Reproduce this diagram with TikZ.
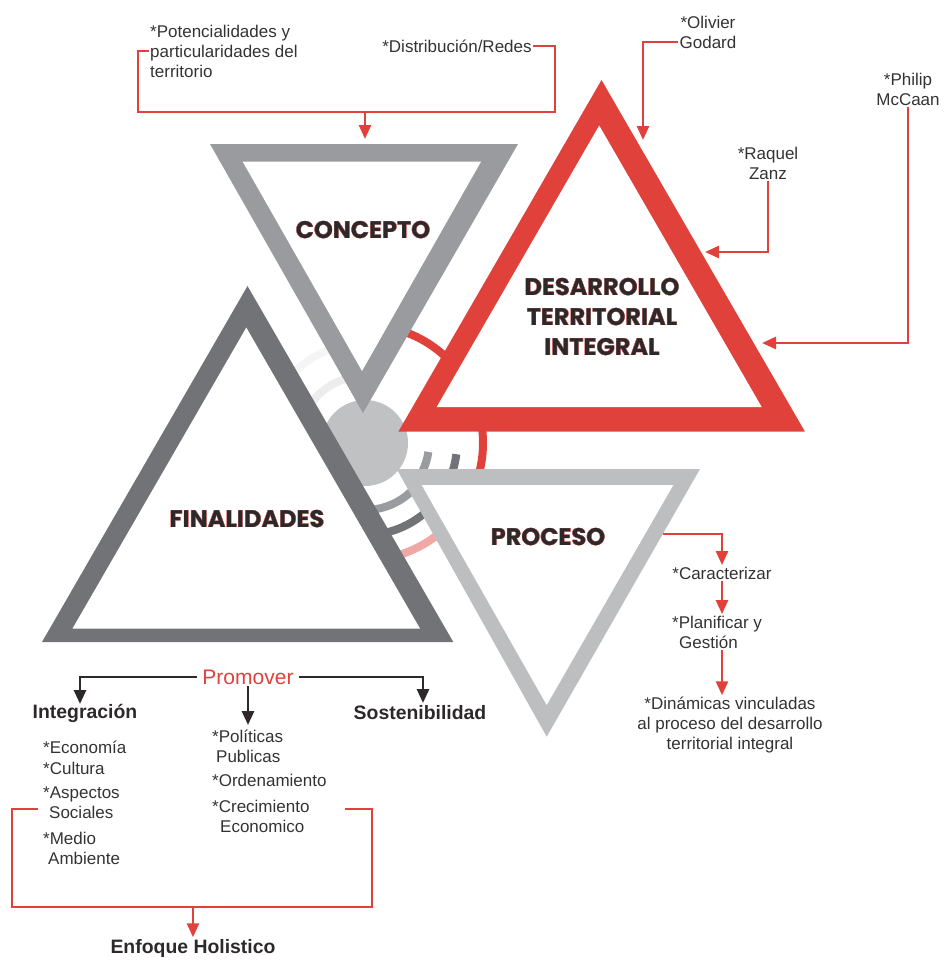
\documentclass[tikz,border=0pt]{standalone}
\usepackage{fontspec}
\usepackage{contour}
\setmainfont{Liberation Sans}
\newfontfamily\titlefont{Poppins}
\usetikzlibrary{arrows.meta}
\definecolor{tred}{HTML}{E0413B}
\definecolor{tgray}{HTML}{9A9B9E}
\definecolor{tdark}{HTML}{727377}
\definecolor{tlight}{HTML}{BDBEC0}
\definecolor{tcirc}{HTML}{C0C1C3}
\definecolor{tpink}{HTML}{F0A8A5}
\definecolor{tink}{HTML}{2D292A}
\definecolor{ttext}{HTML}{333333}
\contourlength{0.2pt}
\contournumber{16}
\newcommand{\ttlline}[1]{\contour{tred!60}{#1}}

\begin{document}
\begin{tikzpicture}[x=1pt,y=-1pt,
  every node/.style={inner sep=1.5pt,text=ttext},
  body/.style={font=\fontsize{17}{20}\selectfont,align=left},
  bold/.style={font=\fontsize{19.4}{22}\selectfont\bfseries,text=tink},
  ttl/.style={font=\titlefont\bfseries\fontsize{24}{30}\selectfont,text=tink,align=center},
  ring/.style={line width=8pt},
  redline/.style={draw=tred,line width=2.6pt},
  rarrow/.style={redline,-{Triangle[width=12pt,length=14pt]}},
  darrow/.style={draw=tink,line width=2.8pt,-{Triangle[width=12pt,length=14pt]}}]
\useasboundingbox (0,0) rectangle (945,961);
\coordinate (hub) at (365,443);

% rings round the hub
\foreach \r/\a/\b/\c in {118/-40/-75/tred, 118/18/-12/tred, 64/28/8/tgray, 92/22/7/tdark,
  67/85/40/tgray, 92/85/40/tdark, 117/85/40/tpink, 67/-95/-150/black!7, 100/-95/-150/black!4}
  \draw[ring,\c] (hub) ++(\a:\r) arc[start angle=\a,end angle=\b,radius=\r];
\fill[tcirc] (hub) circle[radius=43];

% triangles
\fill[tgray] (210,144) -- (518,144) -- (363,413) -- cycle;
\fill[white] (242.7,161.7) -- (481,161.7) -- (362,371) -- cycle;
\fill[tred] (601.5,80) -- (398.3,431.7) -- (805,431.7) -- cycle;
\fill[white] (599.2,125.5) -- (436.7,407) -- (761.7,407) -- cycle;
\fill[tdark] (247.5,286) -- (42,642) -- (453.3,642) -- cycle;
\fill[white] (246.3,327.6) -- (72.5,628.6) -- (420,628.6) -- cycle;
\fill[tlight] (396.7,469) -- (700,469) -- (546.7,736.7) -- cycle;
\fill[white] (421.7,485) -- (673.3,485) -- (546.7,705) -- cycle;

\node[ttl] (concepto) at (363,230) {\ttlline{CONCEPTO}};
\node[ttl] (desarrollo) at (602,317) {\ttlline{DESARROLLO}\\\ttlline{TERRITORIAL}\\\ttlline{INTEGRAL}};
\node[ttl] (finalidades) at (247,519) {\ttlline{FINALIDADES}};
\node[ttl] (proceso) at (548,537) {\ttlline{PROCESO}};

% authors and concept labels
\node[body,anchor=west] (pot) at (148.5,51) {*Potencialidades y\\particularidades del\\territorio};
\node[body] (dist) at (457,46) {*Distribuci\'on/Redes};
\node[body,align=center] (godard) at (708,32) {*Olivier\\Godard};
\node[body,align=center] (raquel) at (768,163) {*Raquel\\Zanz};
\node[body,align=center] (philip) at (908,89) {*Philip\\McCaan};
\coordinate (tl) at (138,112);
\coordinate (tr) at (555,112);
\coordinate (tmid) at (365,112);
\coordinate (ctip) at (365,139);
\coordinate (gtip) at (643,140);
\coordinate (rtip) at (705,252);
\coordinate (ptip) at (762,343);
\draw[redline] (pot.west) -| (tl) -- (tr) |- (dist.east);
\draw[rarrow] (tmid) -- (ctip);
\draw[rarrow] ([yshift=-10pt]godard.west) -| (gtip);
\draw[rarrow] (raquel.south) |- (rtip);
\draw[rarrow] (philip.south) |- (ptip);

% proceso steps
\node[body] (carac) at (722,573) {*Caracterizar};
\node[body,anchor=west] (plan) at (670.5,632) {*Planificar y\\\hspace*{7pt}Gesti\'on};
\node[body,align=center] (dinam) at (730,725) {*Din\'amicas vinculadas\\al proceso del desarrollo\\territorial integral};
\coordinate (pedge) at (663,534);
\draw[rarrow] (pedge) -| (carac.north);
\draw[rarrow] (carac.south) -- (carac.south |- plan.north);
\draw[rarrow] (carac.south |- plan.south) -- (carac.south |- dinam.north);

% finalidades
\node[font=\fontsize{21}{24}\selectfont,text=tred,inner xsep=5pt] (promover) at (248,677) {Promover};
\node[bold] (integ) at (85,713) {Integraci\'on};
\node[bold] (sosten) at (420,713) {Sostenibilidad};
\node[bold] (enfoque) at (193,948) {Enfoque Holistico};
\foreach \y/\n/\t in {747/eco/*Econom\'ia, 768/cul/*Cultura,
  802.5/asp/{*Aspectos\\\hspace*{6pt}Sociales}, 848/med/{*Medio\\\hspace*{5pt}Ambiente}}
  \node[body,anchor=west] (\n) at (41.5,\y) {\t};
\foreach \y/\n/\t in {746/pol/{*Pol\'iticas\\\hspace*{4pt}Publicas}, 780/ord/*Ordenamiento,
  816/cre/{*Crecimiento\\\hspace*{8pt}Economico}}
  \node[body,anchor=west] (\n) at (210.5,\y) {\t};
\coordinate (itip) at (80,704);
\coordinate (stip) at (423,703);
\coordinate (mtip) at (248,725);
\draw[darrow] (promover.west) -| (itip);
\draw[darrow] (promover.east) -| (stip);
\draw[darrow] (promover.south) -- (mtip);
\coordinate (bl1) at (38,809);
\coordinate (bl2) at (12,907);
\coordinate (br2) at (372,907);
\coordinate (br1) at (345,809);
\coordinate (bmid) at (193,907);
\draw[redline] (bl1) -| (bl2) -- (br2) |- (br1);
\draw[rarrow] (bmid) -- (enfoque.north);
\end{tikzpicture}
\end{document}
